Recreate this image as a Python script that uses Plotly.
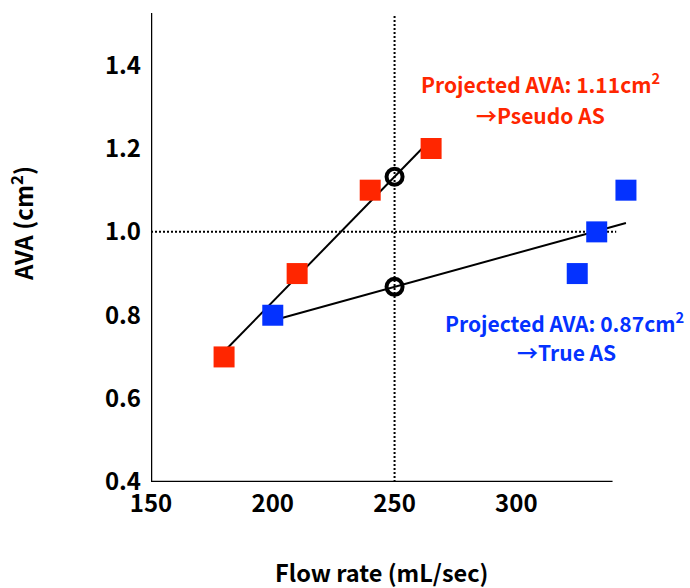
import numpy as np
import plotly.graph_objects as go

# ---- data ----
red_flow = [180, 210, 240, 265]
red_ava = [0.70, 0.90, 1.10, 1.20]
blue_flow = [200, 325, 333, 345]
blue_ava = [0.80, 0.90, 1.00, 1.10]
x_ticks = [150, 200, 250, 300]
y_ticks = [0.4, 0.6, 0.8, 1.0, 1.2, 1.4]
ref_flow = 250
ref_ava = 1.0

RED = "#FF2600"
BLUE = "#0432FF"
FONT = "Noto Sans CJK JP"

W, H = 690, 588
L, R, T, B = 151, 47, 13, 106
XR = [150, 352]
YR = [0.4, 1.525]
pw, ph = W - L - R, H - T - B


def px(xp):
    return (xp - L) / pw


def py(yp):
    return (H - B - yp) / ph


red_fit = np.polyfit(red_flow, red_ava, 1)
blue_fit = np.polyfit(blue_flow, blue_ava, 1)
red_x = [min(red_flow), max(red_flow) - 1]
blue_x = [min(blue_flow), max(blue_flow)]

fig = go.Figure()

# reference dotted lines
fig.add_trace(go.Scatter(x=[ref_flow, ref_flow], y=[YR[0], 1.52], mode="lines",
                         line=dict(color="black", width=2, dash="2px,2px"),
                         hoverinfo="skip", showlegend=False))
fig.add_trace(go.Scatter(x=[XR[0], 341], y=[ref_ava, ref_ava], mode="lines",
                         line=dict(color="black", width=2, dash="2px,2px"),
                         hoverinfo="skip", showlegend=False))

# regression lines
fig.add_trace(go.Scatter(x=red_x, y=list(np.polyval(red_fit, red_x)), mode="lines",
                         line=dict(color="black", width=2), showlegend=False))
fig.add_trace(go.Scatter(x=blue_x, y=list(np.polyval(blue_fit, blue_x)), mode="lines",
                         line=dict(color="black", width=2), showlegend=False))

# data squares
fig.add_trace(go.Scatter(x=red_flow, y=red_ava, mode="markers",
                         marker=dict(symbol="square", size=21, color=RED),
                         cliponaxis=False, showlegend=False))
fig.add_trace(go.Scatter(x=blue_flow, y=blue_ava, mode="markers",
                         marker=dict(symbol="square", size=21, color=BLUE),
                         cliponaxis=False, showlegend=False))

# projected points
proj = [float(np.polyval(red_fit, ref_flow)), float(np.polyval(blue_fit, ref_flow))]
fig.add_trace(go.Scatter(x=[ref_flow, ref_flow], y=proj, mode="markers",
                         marker=dict(symbol="circle-open", size=16, color="black",
                                     line=dict(width=4, color="black")),
                         cliponaxis=False, showlegend=False))

# axis lines
fig.add_shape(type="line", xref="x", yref="y", x0=148.3, x1=339.5, y0=YR[0], y1=YR[0],
              line=dict(color="black", width=2.5))
fig.add_shape(type="line", xref="x", yref="y", x0=150, x1=150, y0=0.393, y1=YR[1],
              line=dict(color="black", width=2.5))

anns = [
    dict(text="Projected AVA: 1.11cm<sup>2</sup>", x=px(540), y=py(83), color=RED),
    dict(text="→Pseudo AS", x=px(540), y=py(115), color=RED),
    dict(text="Projected AVA: 0.87cm<sup>2</sup>", x=px(564), y=py(322), color=BLUE),
    dict(text="→True AS", x=px(566), y=py(352), color=BLUE),
]
for a in anns:
    fig.add_annotation(text=a["text"], x=a["x"], y=a["y"], xref="paper", yref="paper",
                       xanchor="center", yanchor="middle", showarrow=False,
                       font=dict(family=FONT, size=21, color=a["color"], weight="bold"))

fig.add_annotation(text="Flow rate (mL/sec)", x=px(381), y=py(572), xref="paper", yref="paper",
                   xanchor="center", yanchor="middle", showarrow=False,
                   font=dict(family=FONT, size=23.5, color="black", weight="bold"))
fig.add_annotation(text="AVA (cm<sup>2</sup>)", x=px(22), y=py(224), xref="paper", yref="paper",
                   xanchor="center", yanchor="middle", showarrow=False, textangle=-90,
                   font=dict(family=FONT, size=24, color="black", weight="bold"))

fig.update_layout(
    width=W, height=H,
    margin=dict(l=L, r=R, t=T, b=B),
    paper_bgcolor="white", plot_bgcolor="white",
    showlegend=False,
)
fig.update_xaxes(range=XR, tickvals=x_ticks, showgrid=False, zeroline=False, showline=False,
                 ticks="", ticklabelstandoff=5,
                 tickfont=dict(family=FONT, size=24, color="black", weight="bold"))
fig.update_yaxes(range=YR, tickvals=y_ticks, tickformat=".1f", showgrid=False, zeroline=False,
                 showline=False, ticks="", ticklabelstandoff=9,
                 tickfont=dict(family=FONT, size=24, color="black", weight="bold"))

fig.write_html("out.html", config={"displayModeBar": False},
               post_script="document.body.style.margin='0';document.body.style.overflow='hidden';")
